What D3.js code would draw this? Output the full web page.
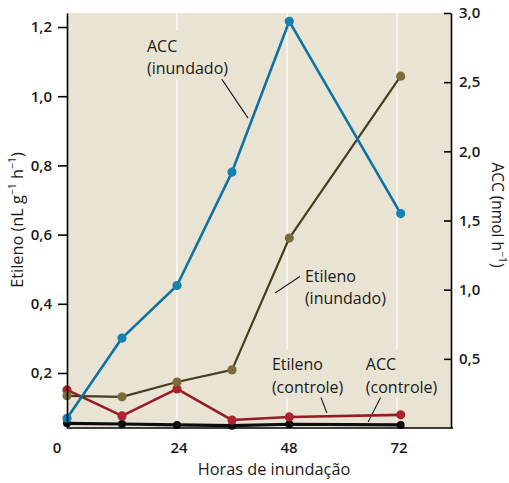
<!DOCTYPE html>
<html>
<head>
<meta charset="utf-8">
<script src="https://cdn.jsdelivr.net/npm/d3@7/dist/d3.min.js"></script>
<style>
  html, body { margin: 0; padding: 0; background: #ffffff; }
  svg { display: block; font-family: "Open Sans", "Noto Sans", sans-serif; }
</style>
</head>
<body>
<svg id="chart" width="509" height="483"></svg>
<script>
// Sampling times (hours of flooding)
const hours = [0, 12, 24, 36, 48.5, 72.8];

// Ethylene production, nL g-1 h-1 (left axis)
const etilenoInundado = [0.134, 0.131, 0.174, 0.209, 0.59, 1.058];
const etilenoControle = [0.151, 0.076, 0.154, 0.064, 0.073, 0.079];

// ACC content, nmol h-1 (right axis)
const accInundado = [0.07, 0.65, 1.03, 1.85, 2.94, 1.55];
const accControle = [0.034, 0.029, 0.022, 0.017, 0.027, 0.022];

// Axis ticks
const xTicks = [0, 24, 48, 72];
const leftTicks = [0.2, 0.4, 0.6, 0.8, 1.0, 1.2];
const rightTicks = [0.5, 1.0, 1.5, 2.0, 2.5, 3.0];

// Series labels: text anchor and leader line, in data units of the right axis
const labels = [
  { lines: ["ACC", "(inundado)"], at: [17.45, 2.72], from: [33.4, 2.54], to: [39.5, 2.24] },
  { lines: ["Etileno", "(inundado)"], at: [51.9, 1.056], from: [51.3, 1.106], to: [45.4, 0.976] },
  { lines: ["Etileno", "(controle)"], at: [44.7, 0.419], from: [55.2, 0.239], to: [56.7, 0.108] },
  { lines: ["ACC", "(controle)"], at: [65.2, 0.419], from: [68.7, 0.239], to: [65.7, 0.043] }
];

const svg = d3.select("#chart");
const m = { left: 67, right: 451, top: 13, bottom: 428 };
const bg = "#e9e3d3";
const ink = "#1a1a1a";

const x = d3.scaleLinear().domain([0, 72]).range([m.left, 397]);
const yL = d3.scaleLinear().domain([0.041, 1.2405]).range([m.bottom, m.top]);
const yR = d3.scaleLinear().domain([0, 3]).range([m.bottom, m.top]);
const fmt = d => d3.format(".1f")(d).replace(".", ",");

// plot background
svg.append("rect")
  .attr("x", m.left).attr("y", m.top)
  .attr("width", m.right - m.left).attr("height", m.bottom - m.top)
  .attr("fill", bg);

// vertical grid lines
svg.append("g").selectAll("line")
  .data(xTicks.filter(d => d > 0))
  .join("line")
  .attr("x1", d => x(d)).attr("x2", d => x(d))
  .attr("y1", m.top).attr("y2", yR(0.05))
  .attr("stroke", "#ffffff").attr("stroke-width", 1.2);

// label backgrounds hide the grid behind the text
const lh = 22.5;
const labelG = svg.append("g").attr("font-size", 16).attr("font-weight", 500).attr("fill", ink);
labels.forEach(l => {
  const t = labelG.append("text")
    .attr("x", x(l.at[0])).attr("y", yR(l.at[1]));
  l.lines.forEach((s, i) => {
    t.append("tspan").attr("x", x(l.at[0])).attr("dy", i === 0 ? 0 : lh).text(s);
  });
  const b = t.node().getBBox();
  labelG.insert("rect", "text")
    .attr("x", b.x - 5).attr("y", b.y - 4)
    .attr("width", b.width + 10).attr("height", b.height + 4)
    .attr("fill", bg);
});

// leader lines
svg.append("g").selectAll("line")
  .data(labels)
  .join("line")
  .attr("x1", d => x(d.from[0])).attr("y1", d => yR(d.from[1]))
  .attr("x2", d => x(d.to[0])).attr("y2", d => yR(d.to[1]))
  .attr("stroke", ink).attr("stroke-width", 1.1);

// series
const series = [
  { values: accControle, y: yR, stroke: "#0d0d0d", fill: "#0d0d0d", width: 3.2, r: 4 },
  { values: etilenoControle, y: yL, stroke: "#951b24", fill: "#ad2430", width: 2.6, r: 4.6 },
  { values: etilenoInundado, y: yL, stroke: "#463d22", fill: "#7b6c3c", width: 2.2, r: 4.6 },
  { values: accInundado, y: yR, stroke: "#0f72a4", fill: "#1680b3", width: 2.6, r: 4.6 }
];

series.forEach(s => {
  const pts = hours.map((h, i) => [h, s.values[i]]);
  const line = d3.line().x(d => x(d[0])).y(d => s.y(d[1]));
  svg.append("path")
    .attr("d", line(pts))
    .attr("fill", "none")
    .attr("stroke", s.stroke)
    .attr("stroke-width", s.width)
    .attr("stroke-linejoin", "round");
  svg.append("g").selectAll("circle")
    .data(pts)
    .join("circle")
    .attr("cx", d => x(d[0])).attr("cy", d => s.y(d[1]))
    .attr("r", s.r)
    .attr("fill", s.fill);
});

// label text sits above the lines
labelG.raise();

// left axis
const gl = svg.append("g")
  .attr("transform", `translate(${m.left},0)`)
  .call(d3.axisLeft(yL).tickValues(leftTicks).tickFormat(fmt).tickSizeInner(9).tickSizeOuter(0).tickPadding(6));
gl.select(".domain").attr("stroke-width", 1.6);
gl.selectAll(".tick line").attr("stroke-width", 1.6);

// right axis (ticks pointing inward)
const gr = svg.append("g")
  .attr("transform", `translate(${m.right},0)`)
  .call(d3.axisRight(yR).tickValues(rightTicks).tickFormat(fmt).tickSizeInner(-7).tickSizeOuter(0).tickPadding(8));
gr.select(".domain").attr("stroke-width", 1.6);
gr.selectAll(".tick line").attr("stroke-width", 1.6);

[gl, gr].forEach(g => g.selectAll("text")
  .attr("font-family", "'Open Sans', sans-serif")
  .attr("font-size", 15).attr("font-weight", 600).attr("fill", ink));

// bottom axis line and hour labels
svg.append("line")
  .attr("x1", m.left).attr("x2", 453)
  .attr("y1", m.bottom).attr("y2", m.bottom)
  .attr("stroke", "#000").attr("stroke-width", 1.6);

svg.append("g").selectAll("text")
  .data(xTicks)
  .join("text")
  .attr("x", d => x(d) + (d === 0 ? -10 : 2))
  .attr("y", 453)
  .attr("text-anchor", "middle")
  .attr("font-size", 15).attr("font-weight", 600).attr("fill", ink)
  .text(d => d);

svg.append("text")
  .attr("x", 274).attr("y", 475)
  .attr("text-anchor", "middle")
  .attr("font-size", 16.3).attr("font-weight", 500).attr("fill", ink)
  .text("Horas de inundação");

// axis titles with superscripts
function titled(t, parts) {
  parts.forEach(p => {
    const sp = t.append("tspan").text(p.t);
    if (p.sup) sp.attr("font-size", 10.5).attr("baseline-shift", "super");
  });
}
const tl = svg.append("text")
  .attr("transform", "translate(23,220) rotate(-90)")
  .attr("text-anchor", "middle")
  .attr("font-size", 16.3).attr("font-weight", 500).attr("fill", ink);
titled(tl, [{ t: "Etileno (nL g" }, { t: "−1", sup: true }, { t: " h" }, { t: "−1", sup: true }, { t: ")" }]);

const tr = svg.append("text")
  .attr("transform", "translate(492,215) rotate(90)")
  .attr("text-anchor", "middle")
  .attr("font-size", 15.5).attr("font-weight", 500).attr("fill", ink);
titled(tr, [{ t: "ACC (nmol h" }, { t: "−1", sup: true }, { t: ")" }]);
</script>
</body>
</html>
